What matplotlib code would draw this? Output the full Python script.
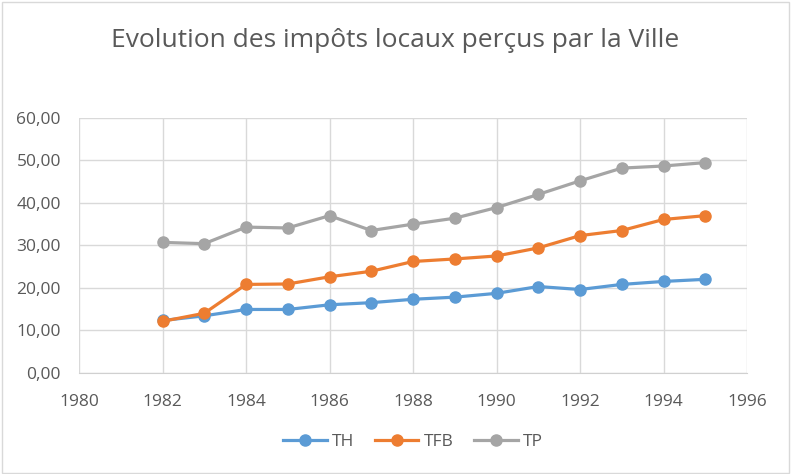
import matplotlib.pyplot as plt
from matplotlib.patches import Rectangle

# Données
annees = [1982, 1983, 1984, 1985, 1986, 1987, 1988, 1989, 1990, 1991, 1992, 1993, 1994, 1995]
th = [12.3, 13.4, 14.9, 14.9, 16.0, 16.5, 17.3, 17.8, 18.7, 20.3, 19.6, 20.8, 21.5, 22.0]
tfb = [12.1, 14.0, 20.8, 20.9, 22.6, 23.9, 26.2, 26.8, 27.5, 29.4, 32.3, 33.5, 36.1, 37.0]
tp = [30.7, 30.4, 34.3, 34.1, 37.0, 33.5, 35.0, 36.4, 38.9, 42.0, 45.2, 48.2, 48.7, 49.5]

series = [("TH", th, "#5B9BD5"), ("TFB", tfb, "#ED7D31"), ("TP", tp, "#A5A5A5")]
xticks = list(range(1980, 1997, 2))
yticks = [0, 10, 20, 30, 40, 50, 60]

plt.rcParams['font.family'] = ['Open Sans', 'DejaVu Sans']
texte = "#595959"

fig = plt.figure(figsize=(7.91, 4.74), dpi=100)
ax = fig.add_axes([0.0999, 0.2137, 0.8445, 0.5373])

for nom, vals, couleur in series:
    ax.plot(annees, vals, color=couleur, linewidth=2.3, marker='o',
            markersize=8, label=nom, zorder=3)

ax.set_xlim(1980, 1996)
ax.set_ylim(0, 60)
ax.set_xticks(xticks)
ax.set_yticks(yticks)
ax.set_yticklabels([f"{v:.2f}".replace('.', ',') for v in yticks])
ax.tick_params(length=0, labelsize=12.5, labelcolor=texte)
ax.tick_params(axis='x', pad=15)
ax.tick_params(axis='y', pad=13)
ax.grid(True, color="#d9d9d9", linewidth=1)
ax.set_axisbelow(True)
for s in ax.spines.values():
    s.set_visible(False)
ax.spines['bottom'].set_visible(True)
ax.spines['bottom'].set_color("#d0d0d0")

fig.suptitle("Evolution des impôts locaux perçus par la Ville", y=0.94,
             fontsize=19, color=texte)

ax.legend(loc='upper center', bbox_to_anchor=(0.5, -0.18), ncol=3, frameon=False,
          fontsize=12.5, labelcolor=texte, handlelength=2.5, columnspacing=1.2,
          handletextpad=0.3)

fig.patches.append(Rectangle((0.002, 0.003), 0.995, 0.993, transform=fig.transFigure,
                             fill=False, edgecolor="#d9d9d9", linewidth=1))

fig.savefig("out.png", dpi=100)
